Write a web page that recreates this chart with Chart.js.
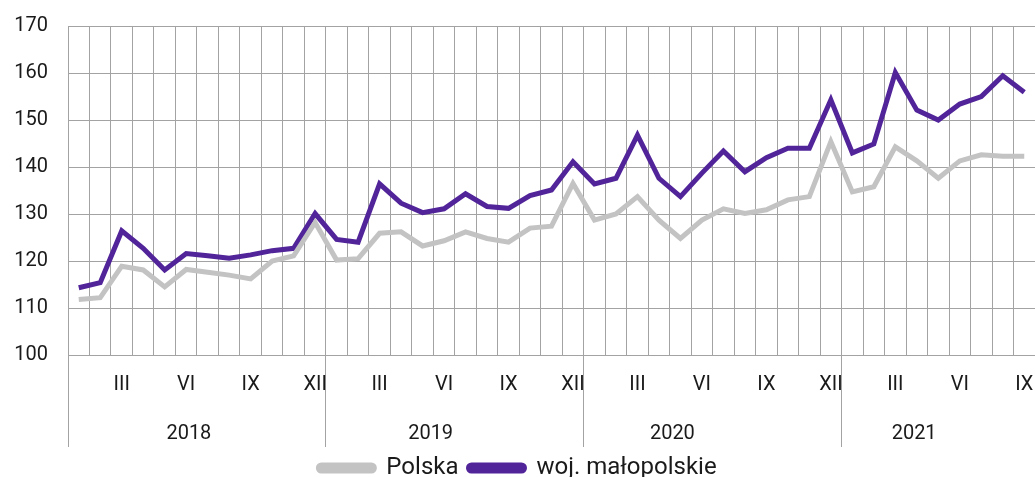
<!DOCTYPE html>
<html>
<head>
<meta charset="utf-8">
<script src="https://cdn.jsdelivr.net/npm/chart.js@4/dist/chart.umd.min.js"></script>
<style>
    html, body { margin: 0; padding: 0; background: #fff; }
    #wrap { width: 1035px; height: 477px; }
</style>
</head>
<body>
<div id="wrap"><canvas id="chart"></canvas></div>
<script>
// data: Jan 2018 - Sep 2021, monthly
const years = ['2018', '2019', '2020', '2021'];
const romans = ['I', 'II', 'III', 'IV', 'V', 'VI', 'VII', 'VIII', 'IX', 'X', 'XI', 'XII'];
const shownMonths = ['III', 'VI', 'IX', 'XII'];

const polska = [
    111.8, 112.2, 118.9, 118.1, 114.5, 118.2, 117.6, 117.0, 116.2, 120.0, 121.1, 128.2,
    120.2, 120.5, 125.9, 126.2, 123.2, 124.3, 126.2, 124.8, 124.0, 127.0, 127.4, 136.5,
    128.7, 130.0, 133.7, 128.7, 124.8, 128.7, 131.1, 130.1, 130.9, 133.0, 133.7, 145.4,
    134.7, 135.8, 144.3, 141.3, 137.6, 141.3, 142.6, 142.3, 142.3
];
const malopolskie = [
    114.3, 115.4, 126.4, 122.7, 118.1, 121.6, 121.1, 120.6, 121.3, 122.2, 122.7, 130.1,
    124.6, 124.0, 136.4, 132.3, 130.3, 131.1, 134.3, 131.6, 131.2, 133.9, 135.1, 141.1,
    136.4, 137.6, 146.8, 137.6, 133.7, 138.7, 143.4, 139.0, 142.0, 144.0, 144.0, 154.3,
    143.0, 144.9, 160.1, 152.1, 150.0, 153.4, 155.0, 159.4, 155.9
];

const seriesNames = ['Polska', 'woj. małopolskie'];

// month labels built from the arrays above
const months = [];
years.forEach(y => {
    romans.forEach(m => {
        if (months.length < polska.length) months.push(m);
    });
});

const gridGray = '#a3a3a3';
const textColor = '#1a1a1a';
const tickFont = { family: 'Roboto', size: 20 };

const config = {
    type: 'line',
    data: {
        labels: months,
        datasets: [{
            label: seriesNames[0],
            data: polska,
            borderColor: '#c3c3c3',
            backgroundColor: '#c3c3c3',
            borderWidth: 5,
            pointRadius: 0,
            tension: 0
        }, {
            label: seriesNames[1],
            data: malopolskie,
            borderColor: '#51249a',
            backgroundColor: '#51249a',
            borderWidth: 5,
            pointRadius: 0,
            tension: 0
        }]
    },
    options: {
        responsive: true,
        maintainAspectRatio: false,
        animation: false,
        // legend sits partly below the bottom edge, as in the original
        layout: { padding: { top: 0, right: 0, left: 0, bottom: -13 } },
        plugins: {
            tooltip: { enabled: false },
            legend: {
                position: 'bottom',
                labels: {
                    font: { family: 'Roboto', size: 24 },
                    color: textColor,
                    boxWidth: 56,
                    boxHeight: 6,
                    useBorderRadius: true,
                    borderRadius: 3,
                    padding: 10
                }
            }
        },
        scales: {
            x: {
                weight: 0,
                offset: true,
                grid: {
                    offset: true,
                    color: gridGray,
                    tickLength: 92,
                    // year separators run down through both label rows
                    tickColor: ctx => (ctx.index % 12 === 0 ? gridGray : 'rgba(0,0,0,0)')
                },
                border: { color: gridGray },
                ticks: {
                    autoSkip: false,
                    maxRotation: 0,
                    padding: -74,
                    color: textColor,
                    font: tickFont,
                    callback: function (val) {
                        const m = months[val];
                        return shownMonths.includes(m) ? m : '';
                    }
                },
                afterFit: scale => { scale.height = 41; }
            },
            x2: {
                weight: 1,
                type: 'category',
                labels: years,
                position: 'bottom',
                offset: true,
                grid: { display: false },
                border: { display: false },
                ticks: {
                    padding: 18,
                    maxRotation: 0,
                    color: textColor,
                    font: tickFont
                },
                afterFit: scale => { scale.height = 50; }
            },
            y: {
                min: 100,
                max: 170,
                grid: { color: gridGray, drawTicks: false },
                border: { color: gridGray },
                ticks: {
                    stepSize: 10,
                    padding: 20,
                    color: textColor,
                    font: { family: 'Roboto', size: 20, lineHeight: 0.6 }
                },
                afterFit: scale => { scale.width = 68; }
            }
        }
    }
};

window.onload = function () {
    const ctx = document.getElementById('chart').getContext('2d');
    new Chart(ctx, config);
};
</script>
</body>
</html>
